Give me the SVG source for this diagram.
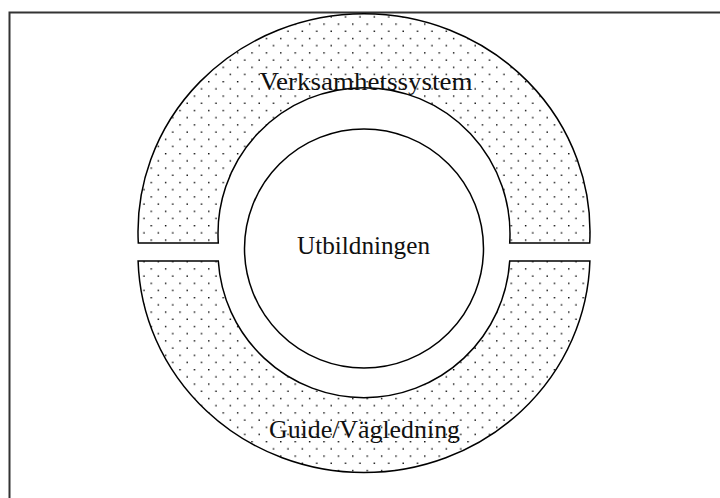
<svg xmlns="http://www.w3.org/2000/svg" width="720" height="498" viewBox="0 0 720 498">
  <style>
    .band { fill: url(#dots); stroke: #000; stroke-width: 1.5; }
    .core { fill: #fff; stroke: #000; stroke-width: 1.5; }
    .lbl { font-family: "Liberation Serif", "Times New Roman", serif; font-size: 26px; fill: #111; text-anchor: middle; }
  </style>
  <defs>
    <pattern id="dots" patternUnits="userSpaceOnUse" x="6.5" y="9" width="14.4" height="14.4">
      <rect width="14.4" height="14.4" fill="#fff"/>
      <rect x="0" y="0" width="1.4" height="1.4" fill="#000"/>
      <rect x="7.2" y="7.2" width="1.4" height="1.4" fill="#000"/>
    </pattern>
  </defs>
  <rect width="720" height="498" fill="#fff"/>
  <g id="frame">
    <path d="M9.5 498 L9.5 12.5 L720 12.5" fill="none" stroke="#333" stroke-width="2"/>
  </g>
  <g id="verksamhetssystem">
    <path class="band" d="M138.3 243 A226 218 0 1 1 589.7 243 L509.7 243 A146 146 0 1 0 218.3 243 Z"/>
    <text class="lbl" x="366" y="90" textLength="213" lengthAdjust="spacingAndGlyphs">Verksamhetssystem</text>
  </g>
  <g id="guide">
    <path class="band" d="M138.1 261 L218.3 261 A146 146 0 0 0 509.7 261 L589.9 261 A226 218 0 0 1 138.1 261 Z"/>
    <text class="lbl" x="364.5" y="438" textLength="191" lengthAdjust="spacingAndGlyphs">Guide/Vägledning</text>
  </g>
  <g id="utbildningen">
    <circle class="core" cx="364" cy="248.5" r="119.5"/>
    <text class="lbl" x="363.5" y="254" textLength="133" lengthAdjust="spacingAndGlyphs">Utbildningen</text>
  </g>
  <g id="connectors"/>
</svg>
